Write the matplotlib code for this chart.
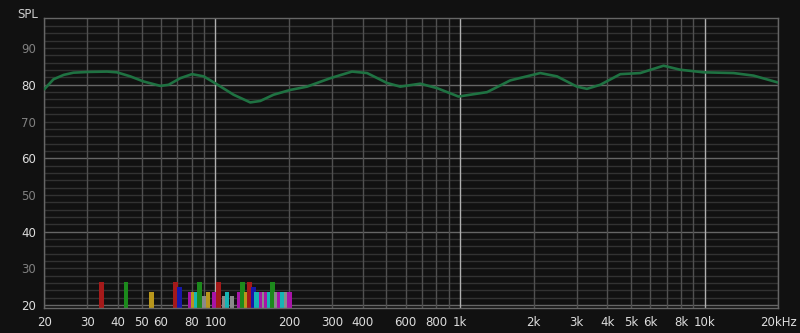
import matplotlib
matplotlib.use('Agg')
import matplotlib.pyplot as plt
import numpy as np

# 周波数特性 (Hz, dB)
freq = [20, 21.8, 24.0, 26.3, 30.2, 36.1, 39.6, 44.9, 50.9, 59.6, 64.4, 71.9,
        80.3, 89.6, 100.6, 118.7, 138.9, 152.7, 173, 202.5, 237, 295, 362,
        417, 503, 570, 688, 805, 986, 1290, 1605, 2128, 2490, 3006, 3302,
        3744, 4520, 5456, 6792, 7944, 9894, 13124, 15840, 20000]
spl = [78.8, 81.5, 82.7, 83.3, 83.5, 83.6, 83.4, 82.3, 80.9, 79.7, 80.0, 81.8,
       82.9, 82.3, 80.3, 77.3, 75.2, 75.6, 77.3, 78.6, 79.5, 81.8, 83.6,
       83.2, 80.5, 79.5, 80.3, 79.1, 76.8, 78.0, 81.2, 83.2, 82.3, 79.5, 78.9,
       80.0, 82.9, 83.2, 85.2, 84.1, 83.4, 83.2, 82.5, 80.6]

# ルームモード
mode_freqs = [34.2, 43.1, 54.8, 68.6, 71.4, 79.0, 81.3, 83.4, 86.2, 90.1,
              93.3, 99.0, 102.8, 108.3, 111.6, 117.0, 124.9, 129.2, 133.4,
              137.9, 143.3, 147.5, 153.8, 158.1, 162.0, 165.9, 171.4, 177.1,
              183.4, 188.3, 195.0, 201.5]
mode_levels = [26.3, 26.3, 23.6, 26.3, 24.8, 23.6, 23.6, 23.6, 26.3, 22.5,
               23.6, 23.6, 26.3, 22.5, 23.6, 22.5, 23.6, 26.3, 23.6,
               26.3, 24.8, 23.6, 23.6, 23.6, 23.6, 23.6, 26.3, 23.6,
               23.6, 23.6, 23.6, 23.6]
mode_colors = ['r', 'g', 'y', 'r', 'b', 'm', 'y', 'c', 'g', 'k',
               'y', 'm', 'r', 'k', 'c', 'k', 'm', 'g', 'y',
               'r', 'b', 'c', 'm', 'k', 'm', 'c', 'g', 'k',
               'm', 'c', 'k', 'm']

xtick_vals = [20, 30, 40, 50, 60, 80, 100, 200, 300, 400, 600, 800, 1000,
              2000, 3000, 4000, 5000, 6000, 8000, 10000, 20000]
xtick_labels = ['20', '30', '40', '50', '60', '80', '100', '200', '300', '400',
                '600', '800', '1k', '2k', '3k', '4k', '5k', '6k', '8k', '10k',
                '20kHz']
ytick_vals = [20, 30, 40, 50, 60, 70, 80, 90]

palette = {'r': '#a51a1a', 'g': '#1c8a1c', 'y': '#b8961c', 'b': '#1818a8',
           'm': '#a814a8', 'c': '#16b4b4', 'k': '#8a8a8a'}

bg = '#111111'
fig = plt.figure(figsize=(8, 3.33), dpi=100, facecolor=bg)
ax = fig.add_axes([0.0554, 0.0751, 0.9175, 0.8709], facecolor=bg)
ax.set_xscale('log')
ax.set_xlim(20, 20000)
ax.set_ylim(19.2, 98.2)

# グリッド
for y in np.arange(20, 98, 2):
    c = '#666666' if y % 20 == 0 else '#323232'
    ax.axhline(y, color=c, linewidth=1, zorder=0)
for d in [10, 100, 1000]:
    for m in range(1, 10):
        f = d * m
        if f < 20 or f > 20000:
            continue
        c = '#b0b0b0' if m == 1 and d >= 100 else '#505050'
        ax.axvline(f, color=c, linewidth=1, zorder=0)
ax.axvline(10000, color='#b0b0b0', linewidth=1, zorder=0)
ax.axvline(20000, color='#505050', linewidth=1, zorder=0)

# モードのバー (ピクセル幅一定)
w = 10 ** (4.6 / 244.7 / 2)
for f, lv, c in zip(mode_freqs, mode_levels, mode_colors):
    ax.bar(f / w, lv - 19, width=f * w - f / w, bottom=19, align='edge',
           color=palette[c], linewidth=0, zorder=2)

ax.plot(freq, spl, color='#1f7242', linewidth=1.9, zorder=3,
        solid_capstyle='round', solid_joinstyle='round')

ax.set_xticks(xtick_vals)
ax.set_xticklabels(xtick_labels)
ax.xaxis.set_minor_locator(matplotlib.ticker.NullLocator())
ax.set_yticks(ytick_vals)
ax.tick_params(length=0, labelsize=8.5, colors='#dddddd')
ax.tick_params(axis='x', pad=6)
ax.tick_params(axis='y', pad=6)
for lab, v in zip(ax.get_yticklabels(), ytick_vals):
    lab.set_color('#dddddd' if v % 20 == 0 else '#808080')

for s in ax.spines.values():
    s.set_color('#666666')
    s.set_linewidth(1)

fig.text(0.021, 0.977, 'SPL', color='#cccccc', fontsize=8.5, va='top', ha='left')

fig.savefig('out.png', dpi=100, facecolor=bg)
